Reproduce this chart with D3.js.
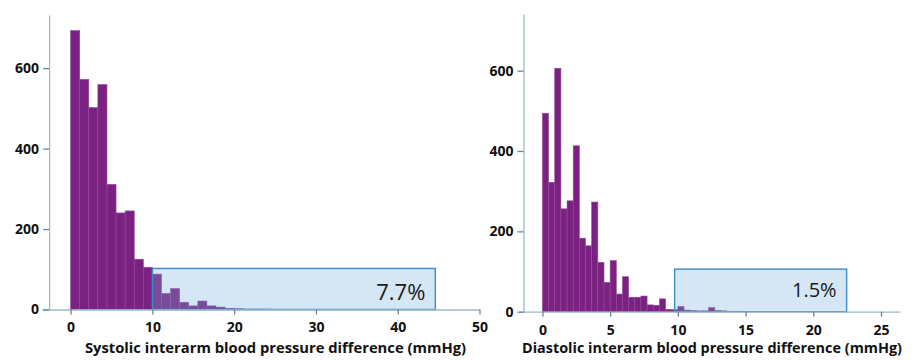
<!DOCTYPE html>
<html>
<head>
<meta charset="utf-8">
<script src="https://cdn.jsdelivr.net/npm/d3@7"></script>
<style>
  html, body { margin: 0; padding: 0; background: #ffffff; }
  svg { display: block; }
  text { font-family: "Open Sans", "DejaVu Sans", sans-serif; }
</style>
</head>
<body>
<svg id="chart" width="915" height="360"></svg>
<script>
// ---------- Data ----------
// Systolic interarm BP difference histogram (bin width 10/9 mmHg, starting at 0)
const sysBinWidth = 10 / 9;
const sysCounts = [693, 572, 502, 559, 311, 240, 245, 125, 105, 88, 40, 52, 18, 9, 21, 9, 6, 3, 2, 1, 1, 1];
const sysTicksX = [0, 10, 20, 30, 40, 50];
const sysTicksY = [0, 200, 400, 600];
const sysHighlight = { x0: 10, x1: 44.6, y: 102, label: "7.7%" };
const sysTitle = "Systolic interarm blood pressure difference (mmHg)";

// Diastolic interarm BP difference histogram (bin width 5/11 mmHg, starting at 0)
const diaBinWidth = 5 / 11;
const diaCounts = [494, 322, 606, 256, 276, 413, 183, 164, 273, 123, 73, 127, 44, 87, 36, 36, 39, 17, 16, 32, 6, 5, 13, 4, 3, 2, 2, 10, 3, 2, 1, 1, 1];
const diaTicksX = [0, 5, 10, 15, 20, 25];
const diaTicksY = [0, 200, 400, 600];
const diaHighlight = { x0: 9.76, x1: 22.46, y: 106, label: "1.5%" };
const diaTitle = "Diastolic interarm blood pressure difference (mmHg)";

// ---------- Drawing ----------
const svg = d3.select("#chart");

function panel(cfg) {
  const x = d3.scaleLinear().domain(cfg.xDomain).range(cfg.xRange);
  const y = d3.scaleLinear().domain(cfg.yDomain).range(cfg.yRange);
  const g = svg.append("g");

  // bars
  g.append("g").selectAll("rect")
    .data(cfg.counts)
    .join("rect")
    .attr("x", (d, i) => x(i * cfg.binWidth))
    .attr("width", (d, i) => x((i + 1) * cfg.binWidth) - x(i * cfg.binWidth))
    .attr("y", d => y(d))
    .attr("height", d => y(0) - y(d))
    .attr("fill", "#7a2182")
    .attr("stroke", "#94479b")
    .attr("stroke-width", 0.6);

  // highlight box
  const h = cfg.highlight;
  g.append("rect")
    .attr("x", x(h.x0))
    .attr("y", y(h.y))
    .attr("width", x(h.x1) - x(h.x0))
    .attr("height", y(0) - y(h.y))
    .attr("fill", "#73acde")
    .attr("fill-opacity", 0.3)
    .attr("stroke", "#3a8cc4")
    .attr("stroke-width", 1.4);
  g.append("text")
    .attr("x", x(h.x1) - 10)
    .attr("y", cfg.labelY)
    .attr("text-anchor", "end")
    .attr("font-size", cfg.labelSize)
    .attr("fill", "#1a1a1a")
    .text(h.label);

  // axes
  const xAxis = d3.axisBottom(x).tickValues(cfg.ticksX).tickSize(5).tickPadding(8).tickSizeOuter(0);
  const yAxis = d3.axisLeft(y).tickValues(cfg.ticksY).tickSize(6).tickPadding(4).tickSizeOuter(0);
  const gx = g.append("g").attr("transform", `translate(0,${y(0)})`).call(xAxis);
  const gy = g.append("g").attr("transform", `translate(${x(cfg.yAxisAt)},0)`).call(yAxis);
  [gx, gy].forEach(a => {
    a.select(".domain").attr("stroke", "#9cb9c6").attr("stroke-width", 1.3);
    a.selectAll(".tick line").attr("stroke", "#5f7f8c").attr("stroke-width", 1.2);
    a.selectAll(".tick text")
      .attr("font-family", "'Open Sans', sans-serif")
      .attr("font-weight", "bold")
      .attr("font-size", 14)
      .attr("fill", "#111");
  });

  // title
  g.append("text")
    .attr("x", cfg.titleX)
    .attr("y", 353)
    .attr("text-anchor", "middle")
    .attr("font-weight", "bold")
    .attr("font-size", 13.6)
    .attr("textLength", cfg.titleWidth)
    .attr("lengthAdjust", "spacingAndGlyphs")
    .attr("fill", "#111")
    .text(cfg.title);
}

panel({
  counts: sysCounts, binWidth: sysBinWidth,
  ticksX: sysTicksX, ticksY: sysTicksY,
  xDomain: [-3.5, 50], xRange: [42, 479.5],
  yDomain: [0, 732], yRange: [309.5, 15],
  yAxisAt: -2.63,
  highlight: sysHighlight, labelY: 300, labelSize: 22,
  title: sysTitle, titleX: 275.5, titleWidth: 381
});

panel({
  counts: diaCounts, binWidth: diaBinWidth,
  ticksX: diaTicksX, ticksY: diaTicksY,
  xDomain: [-1.73, 26.4], xRange: [519, 900],
  yDomain: [0, 741], yRange: [311.7, 14],
  yAxisAt: -1.40,
  highlight: diaHighlight, labelY: 297, labelSize: 20,
  title: diaTitle, titleX: 712, titleWidth: 380
});
</script>
</body>
</html>
